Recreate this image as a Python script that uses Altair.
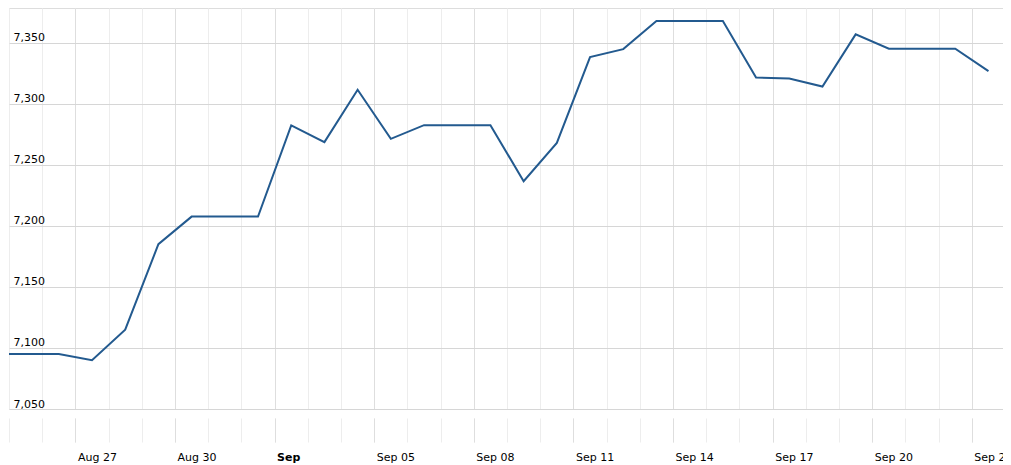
import altair as alt
import pandas as pd

# Daily values
dates = [
    "2019-08-24", "2019-08-25", "2019-08-26", "2019-08-27", "2019-08-28",
    "2019-08-29", "2019-08-30", "2019-08-31", "2019-09-01", "2019-09-02",
    "2019-09-03", "2019-09-04", "2019-09-05", "2019-09-06", "2019-09-07",
    "2019-09-08", "2019-09-09", "2019-09-10", "2019-09-11", "2019-09-12",
    "2019-09-13", "2019-09-14", "2019-09-15", "2019-09-16", "2019-09-17",
    "2019-09-18", "2019-09-19", "2019-09-20", "2019-09-21", "2019-09-22",
    "2019-09-23",
]
values = [
    7095, 7095, 7095, 7090, 7115,
    7185, 7207.6, 7207.6, 7207.6, 7282.3,
    7268.6, 7311.5, 7271.3, 7282.5, 7282.5,
    7282.5, 7236.6, 7268, 7338.3, 7344.8,
    7367.8, 7367.8, 7367.8, 7321.6, 7320.8,
    7314.2, 7356.9, 7345.1, 7345.1, 7345.1,
    7326.8,
]

# Axis tick positions
major_days = [(8, 27), (8, 30), (9, 2), (9, 5), (9, 8), (9, 11), (9, 14), (9, 17), (9, 20), (9, 23)]
minor_days = [(8, d) for d in range(25, 32)] + [(9, d) for d in range(1, 24)]
y_ticks = [7050, 7100, 7150, 7200, 7250, 7300, 7350]
y_domain = [7050, 7378.5]
YEAR = 2019

df = pd.DataFrame({"date": [d + "T12:00:00" for d in dates], "value": values})

FONT = "DejaVu Sans"
x_scale = alt.Scale(domain=[alt.DateTime(year=YEAR, month=8, date=25),
                            alt.DateTime(year=YEAR, month=9, date=23, hours=22, minutes=30)])
y_scale = alt.Scale(domain=y_domain, nice=False, zero=False)

minor_axis = alt.Axis(
    orient="bottom",
    values=[alt.DateTime(year=YEAR, month=m, date=d) for m, d in minor_days],
    grid=True, gridColor="#ededed", gridWidth=1,
    ticks=True, tickColor="#ededed", tickSize=24, offset=9,
    labels=False, domain=False, title=None,
)

major_axis = alt.Axis(
    orient="bottom",
    values=[alt.DateTime(year=YEAR, month=m, date=d) for m, d in major_days],
    grid=True, gridColor="#dedede", gridWidth=1,
    ticks=True, tickColor="#dedede", tickSize=24, offset=9,
    domain=False, title=None,
    labelExpr="date(datum.value) <= 3 ? timeFormat(datum.value, '%b') : timeFormat(datum.value, '%b %d')",
    labelFontWeight={"condition": {"test": "date(datum.value) <= 3", "value": "bold"}, "value": "normal"},
    labelAlign="left", labelOffset=2, labelBaseline="alphabetic", labelPadding=18,
    labelFont=FONT, labelFontSize=11, labelColor="#000000",
    labelOverlap=False, labelFlush=False, labelBound=False,
)

y_axis = alt.Axis(
    values=y_ticks, format=",d",
    grid=True, gridColor="#d6d6d6", gridWidth=1,
    ticks=False, tickSize=0, domain=False, title=None,
    labelAlign="left", labelPadding=-4, labelBaseline="alphabetic", labelOffset=-2,
    labelFont=FONT, labelFontSize=11, labelColor="#000000",
    labelFlush=False, labelBound=False,
)

minor_layer = alt.Chart(df).mark_line(strokeOpacity=0, clip=True).encode(
    x=alt.X("date:T", scale=x_scale, axis=minor_axis),
    y=alt.Y("value:Q", scale=y_scale, axis=None),
)

line_layer = alt.Chart(df).mark_line(color="#235a8f", strokeWidth=2, clip=True).encode(
    x=alt.X("date:T", scale=x_scale, axis=major_axis),
    y=alt.Y("value:Q", scale=y_scale, axis=y_axis),
)

chart = alt.layer(minor_layer, line_layer).resolve_axis(
    x="independent", y="independent"
).resolve_scale(x="shared", y="shared").properties(
    width=994, height=401,
    autosize=alt.AutoSizeParams(type="none"),
    padding={"left": 1, "top": 0, "right": 0, "bottom": 56},
).configure_view(stroke=None).configure(font=FONT)

chart.save("out.html", embed_options={"renderer": "svg", "actions": False})
